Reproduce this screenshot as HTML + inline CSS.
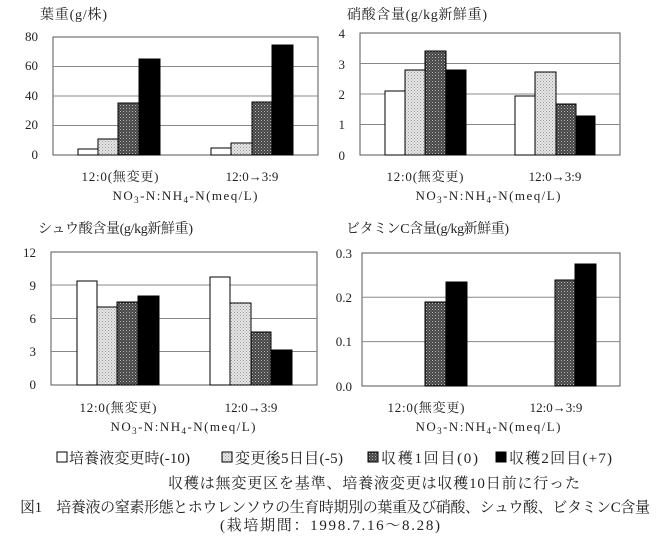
<!DOCTYPE html>
<html><head><meta charset="utf-8"><style>
body{margin:0;background:#fff}
svg{display:block}
text{font-family:"Liberation Serif","Noto Serif CJK SC",serif;fill:#222}
</style></head><body>
<svg width="664" height="542" viewBox="0 0 664 542" xmlns="http://www.w3.org/2000/svg">
<defs>
<pattern id="lt" width="3" height="3" patternUnits="userSpaceOnUse"><rect width="3" height="3" fill="#e6e6e6"/><rect width="1" height="1" fill="#999"/><rect x="1.5" y="1.5" width="1" height="1" fill="#aaa"/></pattern>
<pattern id="dk" width="3" height="3" patternUnits="userSpaceOnUse"><rect width="3" height="3" fill="#444"/><rect width="1" height="1" fill="#bbb"/><rect x="1.5" y="1.5" width="1" height="1" fill="#999"/></pattern>
</defs>
<g font-size="13">
<!-- Chart 1 -->
<text x="40" y="19" font-size="14" textLength="67">葉重(g/株)</text>
<rect x="53" y="37" width="265" height="118" fill="none" stroke="#555"/>
<g stroke="#888"><line x1="53" x2="318" y1="66.5" y2="66.5"/><line x1="53" x2="318" y1="96" y2="96"/><line x1="53" x2="318" y1="125.5" y2="125.5"/></g>
<g text-anchor="end"><text x="38" y="41">80</text><text x="38" y="70">60</text><text x="38" y="100">40</text><text x="38" y="129">20</text><text x="38" y="159">0</text></g>
<g stroke="#000" stroke-width="1">
<rect x="78" y="149" width="20" height="6" fill="#fff"/><rect x="98" y="139" width="20" height="16" fill="url(#lt)"/><rect x="118" y="103" width="21" height="52" fill="url(#dk)"/><rect x="139" y="59" width="21" height="96" fill="#000"/>
<rect x="211" y="148" width="20" height="7" fill="#fff"/><rect x="231" y="143" width="21" height="12" fill="url(#lt)"/><rect x="252" y="102" width="20" height="53" fill="url(#dk)"/><rect x="272" y="45" width="21" height="110" fill="#000"/>
</g>
<text x="120" y="181" text-anchor="middle" textLength="77">12:0(無変更)</text><text x="252" y="181" text-anchor="middle">12:0→3:9</text>
<text x="185" y="200" text-anchor="middle" textLength="145">NO<tspan font-size="9" dy="3">3</tspan><tspan dy="-3">-N:NH</tspan><tspan font-size="9" dy="3">4</tspan><tspan dy="-3">-N(meq/L)</tspan></text>

<!-- Chart 2 -->
<text x="347" y="19" font-size="14" textLength="140">硝酸含量(g/kg新鮮重)</text>
<rect x="360" y="33" width="260" height="122" fill="none" stroke="#555"/>
<g stroke="#888"><line x1="360" x2="620" y1="63.5" y2="63.5"/><line x1="360" x2="620" y1="94" y2="94"/><line x1="360" x2="620" y1="124.5" y2="124.5"/></g>
<g text-anchor="end"><text x="345" y="38">4</text><text x="345" y="69">3</text><text x="345" y="99">2</text><text x="345" y="129">1</text><text x="345" y="160">0</text></g>
<g stroke="#000">
<rect x="385" y="91" width="20" height="64" fill="#fff"/><rect x="405" y="70" width="20" height="85" fill="url(#lt)"/><rect x="425" y="51" width="21" height="104" fill="url(#dk)"/><rect x="446" y="70" width="20" height="85" fill="#000"/>
<rect x="515" y="96" width="20" height="59" fill="#fff"/><rect x="535" y="72" width="21" height="83" fill="url(#lt)"/><rect x="556" y="104" width="20" height="51" fill="url(#dk)"/><rect x="576" y="116" width="19" height="39" fill="#000"/>
</g>
<text x="425" y="181" text-anchor="middle" textLength="77">12:0(無変更)</text><text x="555" y="181" text-anchor="middle">12:0→3:9</text>
<text x="488" y="200" text-anchor="middle" textLength="145">NO<tspan font-size="9" dy="3">3</tspan><tspan dy="-3">-N:NH</tspan><tspan font-size="9" dy="3">4</tspan><tspan dy="-3">-N(meq/L)</tspan></text>

<!-- Chart 3 -->
<text x="38" y="233" font-size="14" textLength="155">シュウ酸含量(g/kg新鮮重)</text>
<rect x="51" y="252" width="266" height="133" fill="none" stroke="#555"/>
<g stroke="#888"><line x1="51" x2="317" y1="285" y2="285"/><line x1="51" x2="317" y1="318.5" y2="318.5"/><line x1="51" x2="317" y1="351.5" y2="351.5"/></g>
<g text-anchor="end"><text x="36" y="257">12</text><text x="36" y="290">9</text><text x="36" y="323">6</text><text x="36" y="356">3</text><text x="36" y="389">0</text></g>
<g stroke="#000">
<rect x="77" y="281" width="20" height="104" fill="#fff"/><rect x="97" y="307" width="20" height="78" fill="url(#lt)"/><rect x="117" y="302" width="21" height="83" fill="url(#dk)"/><rect x="138" y="296" width="21" height="89" fill="#000"/>
<rect x="210" y="277" width="20" height="108" fill="#fff"/><rect x="230" y="303" width="21" height="82" fill="url(#lt)"/><rect x="251" y="332" width="20" height="53" fill="url(#dk)"/><rect x="271" y="350" width="21" height="35" fill="#000"/>
</g>
<text x="118" y="412" text-anchor="middle" textLength="77">12:0(無変更)</text><text x="251" y="412" text-anchor="middle">12:0→3:9</text>
<text x="183" y="431" text-anchor="middle" textLength="145">NO<tspan font-size="9" dy="3">3</tspan><tspan dy="-3">-N:NH</tspan><tspan font-size="9" dy="3">4</tspan><tspan dy="-3">-N(meq/L)</tspan></text>

<!-- Chart 4 -->
<text x="346" y="233" font-size="14" textLength="163">ビタミンC含量(g/kg新鮮重)</text>
<rect x="362" y="253" width="258" height="133" fill="none" stroke="#555"/>
<g stroke="#888"><line x1="362" x2="620" y1="297.3" y2="297.3"/><line x1="362" x2="620" y1="341.6" y2="341.6"/></g>
<g text-anchor="end"><text x="352" y="258">0.3</text><text x="352" y="302">0.2</text><text x="352" y="346">0.1</text><text x="352" y="391">0.0</text></g>
<g stroke="#000">
<rect x="425" y="302" width="21" height="84" fill="url(#dk)"/><rect x="446" y="282" width="21" height="104" fill="#000"/>
<rect x="555" y="280" width="20" height="106" fill="url(#dk)"/><rect x="575" y="264" width="21" height="122" fill="#000"/>
</g>
<text x="426" y="412" text-anchor="middle" textLength="77">12:0(無変更)</text><text x="556" y="412" text-anchor="middle">12:0→3:9</text>
<text x="488" y="431" text-anchor="middle" textLength="145">NO<tspan font-size="9" dy="3">3</tspan><tspan dy="-3">-N:NH</tspan><tspan font-size="9" dy="3">4</tspan><tspan dy="-3">-N(meq/L)</tspan></text>

<!-- Legend -->
<g stroke="#000">
<rect x="57" y="452" width="10" height="10" fill="#fff"/>
<rect x="222" y="452" width="10" height="10" fill="url(#lt)"/>
<rect x="368" y="452" width="10" height="10" fill="url(#dk)"/>
<rect x="496" y="452" width="10" height="10" fill="#000"/>
</g>
<g font-size="15">
<text x="69" y="463" textLength="121">培養液変更時(-10)</text>
<text x="235" y="463" textLength="108">変更後5日目(-5)</text>
<text x="381" y="463" textLength="97">収穫1回目(0)</text>
<text x="509" y="463" textLength="103">収穫2回目(+7)</text>
<text x="168" y="488" textLength="412">収穫は無変更区を基準、培養液変更は収穫10日前に行った</text>
<text x="20" y="512" textLength="630">図1　培養液の窒素形態とホウレンソウの生育時期別の葉重及び硝酸、シュウ酸、ビタミンC含量</text>
<text x="220" y="530" textLength="220">(栽培期間：1998.7.16～8.28)</text>
</g>
</g>
</svg>
</body></html>
